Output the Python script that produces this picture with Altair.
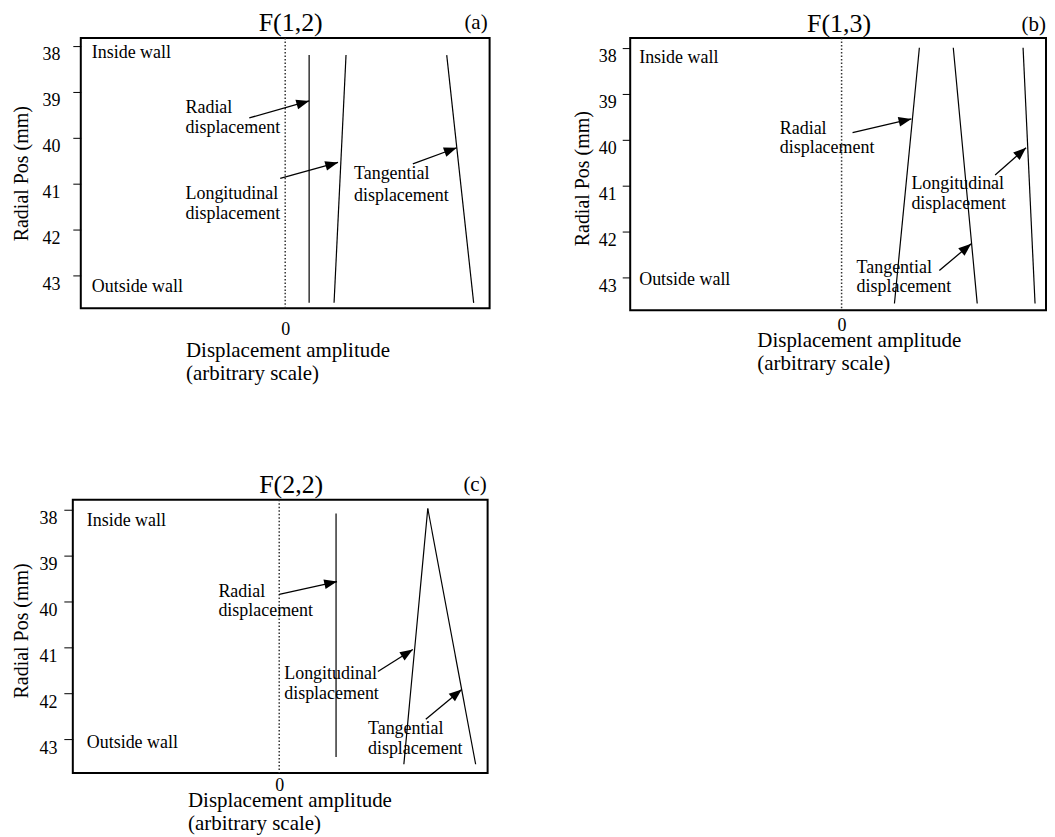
import math
import altair as alt
import pandas as pd

FONT = "Liberation Serif"
SERIES = ["Radial", "Longitudinal", "Tangential"]
Y_TICKS = [38, 39, 40, 41, 42, 43]
X_TICKS = [0]
X_TITLE = ["Displacement amplitude", "(arbitrary scale)"]
Y_TITLE = "Radial Pos (mm)"

# ---------------- panel (a) F(1,2) ----------------
A_TITLE = "F(1,2)"
A_TITLE_X = 5.5
A_TITLE_Y = 37.685
A_TAG = "(a)"
A_TAG_X = 203
A_TAG_Y = 37.64
A_X_DOMAIN = [-213, 205]
A_FRAME_X = [-205, 205]
A_Y_DOMAIN = [37.83, 43.72]
A_LINE_SERIES = ["Radial", "Radial", "Longitudinal", "Longitudinal", "Tangential", "Tangential"]
A_LINE_X = [24, 24, 61, 49, 162, 189]
A_LINE_Y = [38.2, 43.6, 38.2, 43.6, 38.2, 43.6]
A_ARROW_X0 = [-36, -5, 128]
A_ARROW_Y0 = [39.57, 40.89, 40.57]
A_ARROW_X1 = [24, 53, 172]
A_ARROW_Y1 = [39.20, 40.54, 40.22]
A_TEXT = ["Radial", "displacement", "Longitudinal", "displacement",
          "Tangential", "displacement", "Inside wall", "Outside wall"]
A_TEXT_X = [-100, -100, -100, -100, 69, 69, -194, -194]
A_TEXT_Y = [39.35, 39.80, 41.22, 41.67, 40.80, 41.28, 38.15, 43.26]

# ---------------- panel (b) F(1,3) ----------------
B_TITLE = "F(1,3)"
B_TITLE_X = -2.5
B_TITLE_Y = 37.65
B_TAG = "(b)"
B_TAG_X = 205
B_TAG_Y = 37.63
B_X_DOMAIN = [-212, 205]
B_Y_DOMAIN = [37.79, 43.72]
B_LINE_SERIES = ["Radial", "Radial", "Tangential", "Tangential", "Longitudinal", "Longitudinal"]
B_LINE_X = [78, 53, 112, 136, 182, 194]
B_LINE_Y = [38.0, 43.57, 38.0, 43.57, 38.0, 43.57]
B_ARROW_X0 = [11, 154, 98]
B_ARROW_Y0 = [39.85, 40.77, 42.85]
B_ARROW_X1 = [70, 185, 130]
B_ARROW_Y1 = [39.55, 40.18, 42.27]
B_TEXT = ["Radial", "displacement", "Longitudinal", "displacement",
          "Tangential", "displacement", "Inside wall", "Outside wall"]
B_TEXT_X = [-62, -62, 70, 70, 15, 15, -203, -203]
B_TEXT_Y = [39.77, 40.18, 40.96, 41.40, 42.79, 43.22, 38.22, 43.05]

# ---------------- panel (c) F(2,2) ----------------
C_TITLE = "F(2,2)"
C_TITLE_X = 12
C_TITLE_Y = 37.635
C_TAG = "(c)"
C_TAG_X = 208
C_TAG_Y = 37.58
C_X_DOMAIN = [-207, 209]
C_Y_DOMAIN = [37.78, 43.73]
C_LINE_SERIES = ["Radial", "Radial", "Longitudinal", "Longitudinal", "Tangential", "Tangential"]
C_LINE_X = [57, 57, 125, 149, 149, 197]
C_LINE_Y = [38.08, 43.38, 43.54, 37.97, 37.97, 43.54]
C_ARROW_X0 = [0, 99, 147]
C_ARROW_Y0 = [39.84, 41.52, 42.56]
C_ARROW_X1 = [58, 134, 183]
C_ARROW_Y1 = [39.56, 41.04, 41.91]
C_TEXT = ["Radial", "displacement", "Longitudinal", "displacement",
          "Tangential", "displacement", "Inside wall", "Outside wall"]
C_TEXT_X = [-61, -61, 5, 5, 89, 89, -193, -193]
C_TEXT_Y = [39.78, 40.21, 41.58, 42.02, 42.78, 43.21, 38.25, 43.08]

ARROW_PATH = "M0,0L-0.8,2.1L0.8,2.1Z"


def panel(title, titlex, titley, tag, tagx, tagy, xdom, ydom, ls, lx, ly,
          ax0, ay0, ax1, ay1, tx, txx, txy, width, height, colors, widths, lay,
          frame_x=None):
    xs = alt.Scale(domain=xdom, nice=False, zero=False)
    ys = alt.Scale(domain=ydom, nice=False, zero=False, reverse=True)

    lines = pd.DataFrame({"series": ls, "x": lx, "y": ly,
                          "pt": list(range(len(lx)))})
    sx = width / (xdom[1] - xdom[0])
    sy = height / (ydom[1] - ydom[0])
    angs = []
    for a, b, c, d in zip(ax0, ay0, ax1, ay1):
        dx = (c - a) * sx
        dy = (d - b) * sy
        angs.append(math.degrees(math.atan2(dx, -dy)) % 360)
    arrows = pd.DataFrame({"x0": ax0, "y0": ay0, "x1": ax1, "y1": ay1, "ang": angs})
    texts = pd.DataFrame({"t": tx, "x": txx, "y": txy})
    titledf = pd.DataFrame({"t": [title], "x": [titlex], "y": [titley]})
    tagdf = pd.DataFrame({"t": [tag], "x": [tagx], "y": [tagy]})
    zero = pd.DataFrame({"x": [0]})

    xaxis = alt.Axis(values=X_TICKS, ticks=False, domain=False, grid=False,
                     labelFont=FONT, labelFontSize=18, labelPadding=lay["xlp"],
                     labelColor="black", format="d",
                     title=X_TITLE, titleFont=FONT, titleFontSize=21,
                     titleFontWeight="normal", titleColor="black",
                     titleAlign="left", titleBaseline="top",
                     titleX=lay["tx"], titleY=lay["ty"], titleLineHeight=23)
    yaxis = alt.Axis(values=Y_TICKS, tickSize=lay["ts"], tickColor="black",
                     domain=False, grid=False, format="d",
                     labelFont=FONT, labelFontSize=18, labelPadding=lay["ylp"],
                     labelBaseline="top", labelColor="black",
                     title=Y_TITLE, titleFont=FONT, titleFontSize=20,
                     titleFontWeight="normal", titleColor="black",
                     titlePadding=lay["ytp"], titleY=height / 2 + lay["tyoff"],
                     offset=lay["yoff"])

    layers = []
    if frame_x is not None:
        frame = pd.DataFrame({"x": [frame_x[0]], "x2": [frame_x[1]],
                              "y": [ydom[0]], "y2": [ydom[1]]})
        layers.append(alt.Chart(frame).mark_rect(
            filled=False, stroke="black", strokeWidth=2
        ).encode(x=alt.X("x:Q", scale=xs, axis=xaxis), x2="x2:Q",
                 y=alt.Y("y:Q", scale=ys, axis=yaxis), y2="y2:Q"))

    zero_rule = alt.Chart(zero).mark_rule(
        color="#333333", strokeWidth=1.5, strokeDash=[1.5, 2]
    ).encode(x=alt.X("x:Q", scale=xs, axis=xaxis),)

    line_chart = alt.Chart(lines).mark_line().encode(
        x=alt.X("x:Q", scale=xs, axis=xaxis),
        y=alt.Y("y:Q", scale=ys, axis=yaxis),
        detail="series:N",
        order="pt:Q",
        color=alt.Color("series:N", scale=alt.Scale(domain=SERIES, range=colors), legend=None),
        strokeWidth=alt.StrokeWidth("series:N", scale=alt.Scale(domain=SERIES, range=widths), legend=None),
    )

    arrow_rule = alt.Chart(arrows).mark_rule(color="black", strokeWidth=1.3).encode(
        x=alt.X("x0:Q", scale=xs), y=alt.Y("y0:Q", scale=ys),
        x2="x1:Q", y2="y1:Q",
    )
    arrow_head = alt.Chart(arrows).mark_point(
        shape=ARROW_PATH, filled=True, color="black", opacity=1, size=150, strokeWidth=0
    ).encode(
        x=alt.X("x1:Q", scale=xs), y=alt.Y("y1:Q", scale=ys),
        angle=alt.Angle("ang:Q", scale=None),
    )

    labels = alt.Chart(texts).mark_text(
        font=FONT, fontSize=18, align="left", baseline="middle", color="black"
    ).encode(x=alt.X("x:Q", scale=xs), y=alt.Y("y:Q", scale=ys), text="t:N")

    title_text = alt.Chart(titledf).mark_text(
        font=FONT, fontSize=26, align="center", baseline="alphabetic", color="black"
    ).encode(x=alt.X("x:Q", scale=xs), y=alt.Y("y:Q", scale=ys), text="t:N")

    tag_text = alt.Chart(tagdf).mark_text(
        font=FONT, fontSize=21, align="right", baseline="alphabetic", color="black"
    ).encode(x=alt.X("x:Q", scale=xs), y=alt.Y("y:Q", scale=ys), text="t:N")

    layers += [zero_rule, line_chart, arrow_rule, arrow_head, labels, title_text, tag_text]
    if frame_x is not None:
        view = alt.ViewConfig(strokeOpacity=0)
    else:
        view = alt.ViewConfig(stroke="black", strokeWidth=2)
    return alt.layer(*layers).properties(width=width, height=height, view=view)


pa = panel(A_TITLE, A_TITLE_X, A_TITLE_Y, A_TAG, A_TAG_X, A_TAG_Y,
           A_X_DOMAIN, A_Y_DOMAIN, A_LINE_SERIES, A_LINE_X, A_LINE_Y,
           A_ARROW_X0, A_ARROW_Y0, A_ARROW_X1, A_ARROW_Y1,
           A_TEXT, A_TEXT_X, A_TEXT_Y, 418, 271,
           ["black", "black", "black"], [1.2, 1.2, 1.2],
           {"xlp": 12, "tx": 113, "ty": 31, "ts": 8, "ylp": 13, "ytp": 10,
            "tyoff": 0, "yoff": -8},
           frame_x=A_FRAME_X)
pb = panel(B_TITLE, B_TITLE_X, B_TITLE_Y, B_TAG, B_TAG_X, B_TAG_Y,
           B_X_DOMAIN, B_Y_DOMAIN, B_LINE_SERIES, B_LINE_X, B_LINE_Y,
           B_ARROW_X0, B_ARROW_Y0, B_ARROW_X1, B_ARROW_Y1,
           B_TEXT, B_TEXT_X, B_TEXT_Y, 417, 273,
           ["black", "black", "black"], [1.2, 1.2, 1.2],
           {"xlp": 6, "tx": 127, "ty": 19, "ts": 8, "ylp": 6, "ytp": 6,
            "tyoff": 4, "yoff": 0})
pc = panel(C_TITLE, C_TITLE_X, C_TITLE_Y, C_TAG, C_TAG_X, C_TAG_Y,
           C_X_DOMAIN, C_Y_DOMAIN, C_LINE_SERIES, C_LINE_X, C_LINE_Y,
           C_ARROW_X0, C_ARROW_Y0, C_ARROW_X1, C_ARROW_Y1,
           C_TEXT, C_TEXT_X, C_TEXT_Y, 416, 274,
           ["#808080", "black", "black"], [2.0, 1.2, 1.2],
           {"xlp": 4, "tx": 115, "ty": 17, "ts": 9, "ylp": 7, "ytp": 7,
            "tyoff": -6, "yoff": 0})

chart = alt.vconcat(
    alt.hconcat(pa, pb, spacing=81),
    pc,
    spacing=88,
).properties(
    padding={"left": 3, "top": 0, "right": 0, "bottom": 0},
    background="white",
)

chart.save("out.html", embed_options={"renderer": "svg", "actions": False})
